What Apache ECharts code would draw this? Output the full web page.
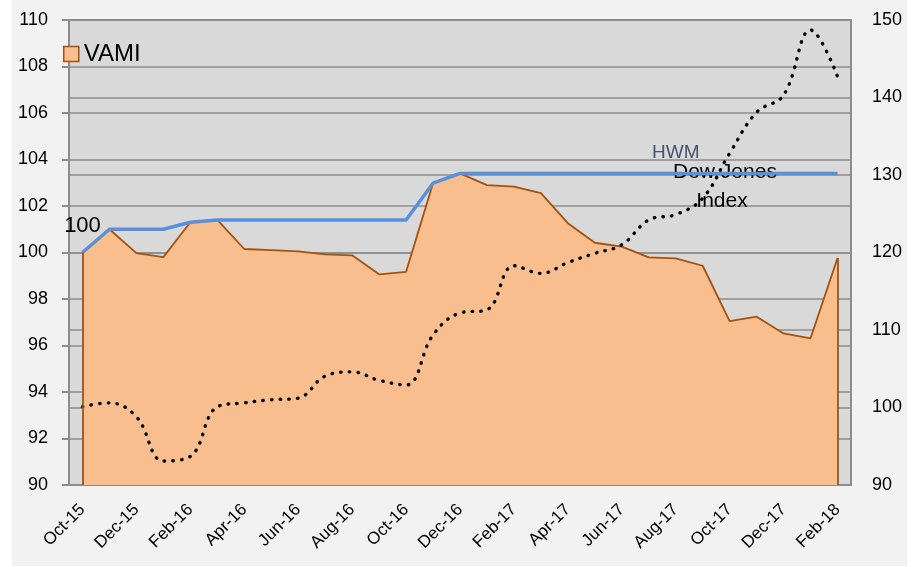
<!DOCTYPE html>
<html>
<head>
<meta charset="utf-8">
<script src="https://cdn.jsdelivr.net/npm/echarts@6/dist/echarts.min.js"></script>
<style>
  html, body { margin: 0; padding: 0; background: #fff; }
  #main { position: absolute; left: 12px; top: 0; width: 895px; height: 566px; background: #f2f2f2; }
</style>
</head>
<body>
<div id="main"></div>
<script>
// monthly points, Oct-15 .. Feb-18
const months = [
  "Oct-15", "Nov-15", "Dec-15", "Jan-16", "Feb-16", "Mar-16", "Apr-16", "May-16",
  "Jun-16", "Jul-16", "Aug-16", "Sep-16", "Oct-16", "Nov-16", "Dec-16", "Jan-17",
  "Feb-17", "Mar-17", "Apr-17", "May-17", "Jun-17", "Jul-17", "Aug-17", "Sep-17",
  "Oct-17", "Nov-17", "Dec-17", "Jan-18", "Feb-18"
];
const vami = [
  100.0, 101.0, 99.97, 99.8, 101.3, 101.4, 100.15, 100.1, 100.05, 99.92,
  99.88, 99.06, 99.17, 102.98, 103.4, 102.9, 102.83, 102.55, 101.26, 100.42,
  100.25, 99.79, 99.75, 99.43, 97.05, 97.24, 96.52, 96.31, 99.76
];
const hwm = [
  100, 101, 101, 101, 101.3, 101.4, 101.4, 101.4, 101.4, 101.4,
  101.4, 101.4, 101.4, 102.98, 103.4, 103.4, 103.4, 103.4, 103.4, 103.4,
  103.4, 103.4, 103.4, 103.4, 103.4, 103.4, 103.4, 103.4, 103.4
];
const dowJones = [
  100.1, 100.6, 98.8, 93.1, 93.7, 100.1, 100.6, 101.0, 101.2, 104.06,
  104.6, 103.5, 102.9, 109.35, 112.2, 112.6, 118.3, 117.3, 118.7, 119.9,
  121.0, 124.2, 124.9, 127.0, 132.8, 138.1, 140.3, 148.7, 142.7
];

const fontFamily = "Liberation Sans, Arial, sans-serif";
const gridColor = "#8c8c8c";
const vamiFill = "#f8be8e";
const vamiLine = "#a3520f";

const chart = echarts.init(document.getElementById("main"));

const last = months.length - 1;

chart.setOption({
  backgroundColor: "#f2f2f2",
  textStyle: { fontFamily: fontFamily, color: "#000" },
  animation: false,
  grid: {
    left: 57, right: 56, top: 20, bottom: 81,
    show: true,
    backgroundColor: "#d9d9d9",
    borderColor: gridColor,
    borderWidth: 1.5
  },
  legend: {
    left: 51, top: 42,
    padding: 0,
    itemWidth: 15, itemHeight: 15,
    data: [{
      name: "VAMI",
      icon: "rect",
      itemStyle: { color: vamiFill, borderColor: vamiLine, borderWidth: 1.5 }
    }],
    textStyle: { fontSize: 24, color: "#000", fontFamily: fontFamily }
  },
  xAxis: {
    type: "category",
    data: months,
    boundaryGap: true,
    axisLine: { lineStyle: { color: gridColor, width: 2 } },
    axisTick: { interval: 1, length: 6, lineStyle: { color: gridColor, width: 2 } },
    axisLabel: { interval: 1, rotate: 45, fontSize: 17, color: "#000", margin: 22, fontFamily: fontFamily },
    splitLine: { show: false }
  },
  yAxis: [
    {
      type: "value",
      min: 90, max: 110, interval: 2,
      axisLine: { show: true, lineStyle: { color: gridColor, width: 2 } },
      axisTick: { show: true, length: 7, lineStyle: { color: gridColor, width: 2 } },
      axisLabel: { fontSize: 18, color: "#000", margin: 21, fontFamily: fontFamily },
      splitLine: { show: true, lineStyle: { color: gridColor, width: 1.5 } }
    },
    {
      type: "value",
      min: 90, max: 150, interval: 10,
      axisLine: { show: true, lineStyle: { color: gridColor, width: 2 } },
      axisTick: { show: false },
      axisLabel: { fontSize: 18, color: "#000", margin: 21, fontFamily: fontFamily },
      splitLine: { show: true, lineStyle: { color: gridColor, width: 1.5 } }
    }
  ],
  series: [
    {
      name: "VAMI",
      type: "line",
      yAxisIndex: 0,
      symbol: "none",
      data: vami,
      lineStyle: { color: vamiLine, width: 1.8 },
      itemStyle: { color: vamiFill },
      areaStyle: { color: vamiFill, opacity: 1, origin: "start" },
      markLine: {
        silent: true,
        symbol: "none",
        label: { show: false },
        lineStyle: { color: vamiLine, width: 1.8, type: "solid" },
        data: [
          [{ coord: [months[0], 90] }, { coord: [months[0], vami[0]] }],
          [{ coord: [months[last], 90] }, { coord: [months[last], vami[last]] }]
        ]
      },
      markPoint: {
        silent: true,
        symbol: "circle",
        symbolSize: 0,
        data: [{
          coord: [months[0], vami[0]],
          label: {
            show: true, position: "top", distance: 16, formatter: "100",
            fontSize: 22, color: "#000", fontFamily: fontFamily
          }
        }]
      },
      z: 2
    },
    {
      name: "HWM",
      type: "line",
      yAxisIndex: 0,
      symbol: "none",
      data: hwm,
      lineStyle: { color: "#5890da", width: 3.5 },
      itemStyle: { color: "#5890da" },
      markPoint: {
        silent: true,
        symbol: "circle",
        symbolSize: 0,
        data: [{
          coord: [months[22], hwm[22]],
          label: {
            show: true, position: "top", distance: 11, formatter: "HWM",
            fontSize: 19, color: "#44546a", fontFamily: fontFamily
          }
        }]
      },
      z: 3
    },
    {
      name: "Dow Jones Index",
      type: "line",
      yAxisIndex: 1,
      symbol: "none",
      smooth: 0.4,
      data: dowJones,
      lineStyle: { color: "#000", width: 3.4, type: [0.5, 8.2], cap: "round" },
      itemStyle: { color: "#000" },
      z: 4
    }
  ],
  graphic: [
    {
      type: "text",
      left: 661, top: 158,
      z: 3,
      style: {
        text: "Dow Jones\n    Index",
        fontSize: 21,
        lineHeight: 29,
        fill: "#000",
        fontFamily: fontFamily
      }
    }
  ]
});
</script>
</body>
</html>
